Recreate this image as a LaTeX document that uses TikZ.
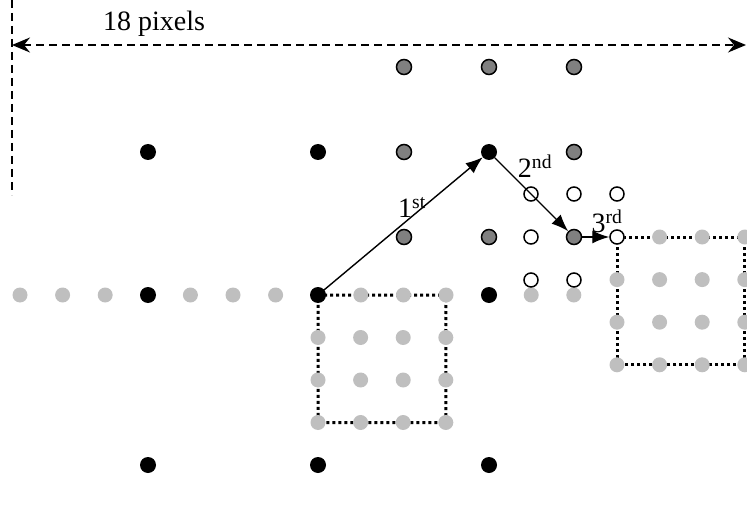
\documentclass[tikz,border=0pt]{standalone}
\usepackage{fontspec}
\setmainfont{Liberation Serif}
\usetikzlibrary{arrows.meta,backgrounds}

\begin{document}
\begin{tikzpicture}[x=1pt, y=-1pt,
        blackdot/.style={circle, fill=black, inner sep=0pt, minimum size=16pt},
        greydot/.style={circle, fill=black!25, inner sep=0pt, minimum size=15pt},
        darkdot/.style={circle, fill=black!50, draw=black, line width=1.5pt, inner sep=0pt, minimum size=15pt},
        opendot/.style={circle, fill=white, draw=black, line width=1.5pt, inner sep=0pt, minimum size=14pt},
        boxline/.style={line width=3pt, dash pattern=on 3pt off 3pt},
        dimline/.style={line width=2pt, dash pattern=on 8pt off 5pt},
        hop/.style={line width=1.4pt, -{Latex[length=17pt, width=13pt]}},
        lbl/.style={font=\fontsize{28}{30}\selectfont, inner sep=0pt}]
        \useasboundingbox (0,0) rectangle (747,508);
        % dimension
        \coordinate (dimL) at (12,45);
        \coordinate (dimR) at (746,45);
        \coordinate (vtop) at (12,0);
        \coordinate (vbot) at (12,195);
        \draw[dimline] (vtop) -- (vbot);
        \draw[dimline, {Stealth[length=18pt, width=15pt, inset=6pt]}-{Stealth[length=18pt, width=15pt, inset=6pt]}] (dimL) -- (dimR);
        \node[lbl] (dimtext) at (154,24) {18 pixels};
        % fine row of samples
        \foreach \k in {0,...,13} {
            \node[greydot] (r\k) at (20+42.6*\k,295) {};
        }
        % first block
        \foreach \i in {0,...,3} {
            \foreach \j in {1,2,3} {
                \node[greydot] (p\i\j) at (318+42.6*\i,295+42.5*\j) {};
            }
        }
        % second block
        \foreach \i in {0,...,3} {
            \foreach \j in {0,...,3} {
                \node[greydot] (q\i\j) at (617+42.6*\i,237+42.6*\j) {};
            }
        }
        % coarse grid
        \foreach \x/\y/\n in {148/152/k1, 318/152/k2, 489/152/k3, 148/295/k4, 318/295/k5,
                             489/295/k6, 148/465/k7, 318/465/k8, 489/465/k9} {
            \node[blackdot] (\n) at (\x,\y) {};
        }
        \foreach \x/\y/\n in {404/67/d1, 489/67/d2, 574/67/d3, 404/152/d4, 574/152/d5,
                             404/237/d6, 489/237/d7, 574/237/d8} {
            \node[darkdot] (\n) at (\x,\y) {};
        }
        \foreach \x/\y/\n in {531/194/w1, 574/194/w2, 617/194/w3, 531/237/w4,
                             531/280/w5, 574/280/w6, 617/237/w7} {
            \node[opendot] (\n) at (\x,\y) {};
        }
        % dotted boxes
        \begin{scope}[on background layer]
        \draw[boxline] (k5.center) -- (r10.center) -- (p33.center) -- (p03.center) -- cycle;
        \draw[boxline] (w7.center) -- (q30.center) -- (q33.center) -- (q03.center) -- cycle;
        \end{scope}
        % hops
        \draw[hop] (k5.center) -- (k3);
        \draw[hop] (k3) -- (d8);
        \draw[hop] (d8) -- (w7);
        \node[lbl] (t1) at (412,207) {1\textsuperscript{st}};
        \node[lbl] (t2) at (535,166) {2\textsuperscript{nd}};
        \node[lbl] (t3) at (607,221) {3\textsuperscript{rd}};
\end{tikzpicture}
\end{document}
